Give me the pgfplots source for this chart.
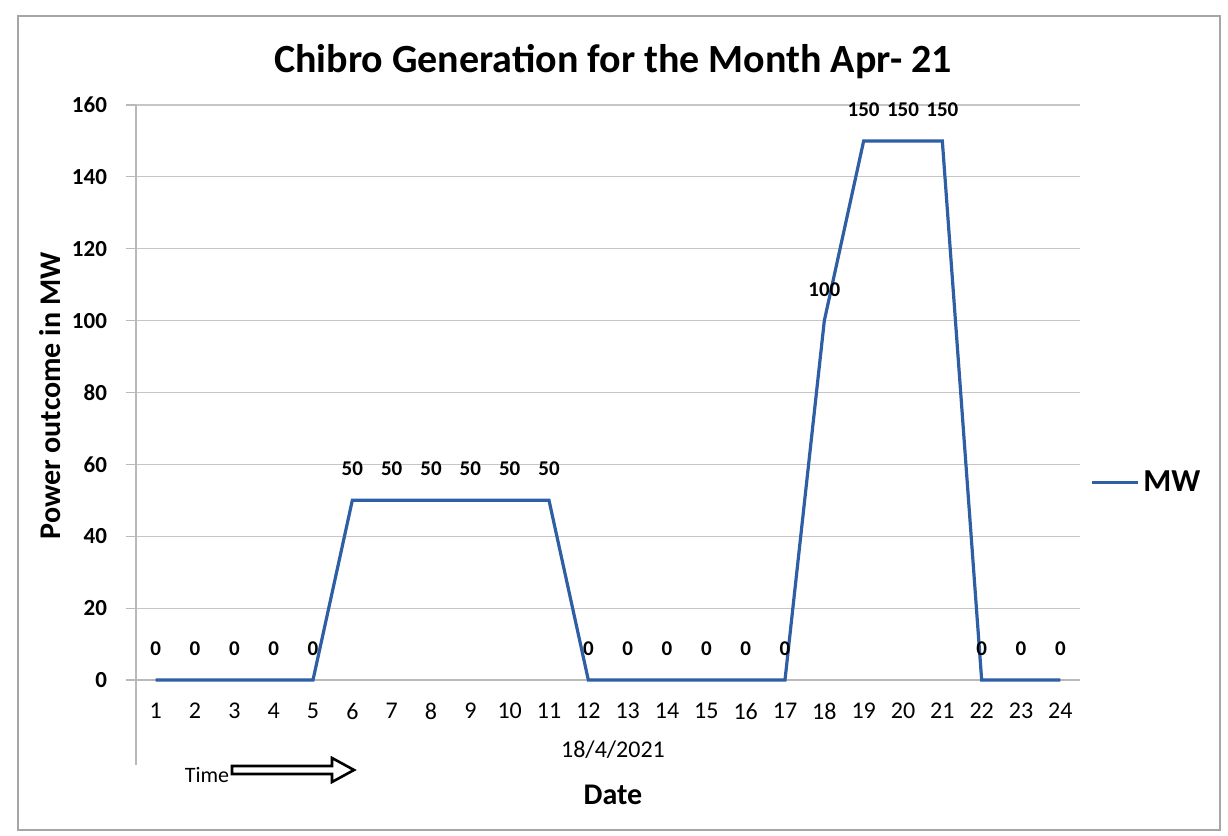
\documentclass[border=0pt]{standalone}
\usepackage{fontspec}
\setmainfont{Carlito}
\usepackage{pgfplots}
\pgfplotsset{compat=1.18}
\usetikzlibrary{arrows.meta}
\definecolor{mwblue}{RGB}{46,94,164}
\begin{document}
\begin{tikzpicture}[x=1pt,y=1pt]
\path[use as bounding box] (0,0) rectangle (614,418);
\draw[gray!70, line width=0.8pt] (9,3) rectangle (610,410);
\begin{axis}[at={(68pt,78pt)}, anchor=south west, scale only axis,
  width=472pt, height=287.5pt,
  xmin=0.5, xmax=24.5, ymin=0, ymax=160,
  xtick={1,...,24}, ytick={0,20,...,160},
  axis lines*=left, axis line style={gray!55, line width=0.6pt},
  ymajorgrids, grid style={gray!45, line width=0.6pt},
  /pgf/number format/assume math mode=true,
  yticklabel style={font=\fontsize{11.5}{12}\selectfont\bfseries, xshift=-6pt},
  xticklabel style={font=\fontsize{12}{13}\selectfont, yshift=-3pt},
  xtick style={draw=none}, ytick style={gray!55, line width=0.6pt},
  tick align=outside, major tick length=5pt,
  clip=false,
  legend style={at={(1.004,0.343)}, anchor=west, draw=none, fill=none,
    font=\fontsize{16}{18}\selectfont\bfseries},
  legend image code/.code={\draw[#1] (0pt,0pt) -- (23pt,0pt);},
  nodes near coords,
  nodes near coords style={font=\fontsize{10.5}{11}\selectfont\bfseries, yshift=8pt, text=black},
]
\addplot[mwblue, line width=1.6pt, mark=none] coordinates {
(1,0) (2,0) (3,0) (4,0) (5,0)
(6,50) (7,50) (8,50) (9,50) (10,50) (11,50)
(12,0) (13,0) (14,0) (15,0) (16,0) (17,0)
(18,100) (19,150) (20,150) (21,150)
(22,0) (23,0) (24,0)
};
\addlegendentry{MW}
\draw[gray!55, line width=0.6pt] (rel axis cs:0,0) -- ([yshift=-42.5pt]rel axis cs:0,0);
\end{axis}
\node[font=\fontsize{20}{24}\selectfont\bfseries] at (306.5,387) {Chibro Generation for the Month Apr- 21};
\node[rotate=90, font=\fontsize{15}{18}\selectfont\bfseries] at (25,220) {Power outcome in MW};
\node[font=\fontsize{12}{14}\selectfont] at (306.5,43) {18/4/2021};
\node[font=\fontsize{15}{18}\selectfont\bfseries] at (306.5,20.5) {Date};
\node[font=\fontsize{11}{13}\selectfont] at (103.5,30.5) {Time};
\draw[line width=1.3pt, line join=miter] (116,31) -- (166,31) -- (166,27) -- (177,33) -- (166,39) -- (166,35) -- (116,35) -- cycle;
\end{tikzpicture}
\end{document}
